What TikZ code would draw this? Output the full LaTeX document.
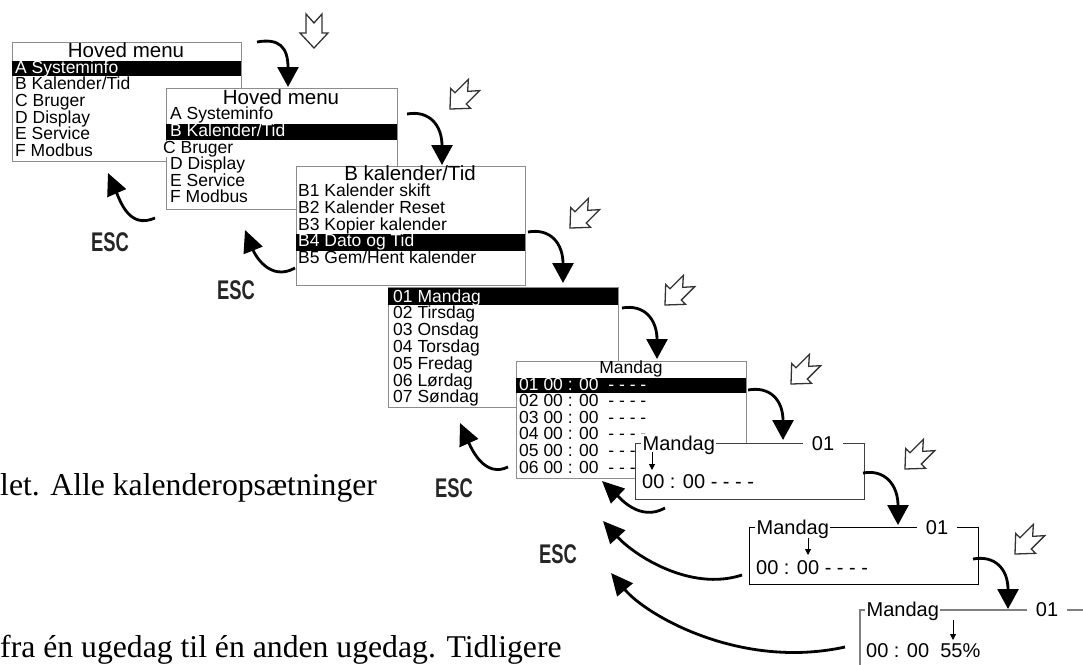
\documentclass[tikz,border=0pt]{standalone}
\usepackage{fontspec}
\setmainfont{Liberation Serif}
\setsansfont{Liberation Sans}
\usetikzlibrary{arrows.meta}

\tikzset{
  menubox/.style={draw=black!45, line width=0.8pt, fill=white, inner sep=0pt, anchor=north west},
  framebox/.style={fill=white, line width=1pt, inner sep=0pt, anchor=north west},
  item/.style={anchor=base west, inner sep=0pt, font=\sffamily\fontsize{17.5}{17.5}\selectfont},
  title/.style={anchor=base, inner sep=0pt, font=\sffamily\fontsize{20.5}{20.5}\selectfont},
  bar/.style={fill=black, draw=none},
  frametxt/.style={anchor=base west, inner sep=0pt, font=\sffamily\fontsize{20}{20}\selectfont},
  framelabel/.style={fill=white, inner xsep=1.5pt, inner ysep=1.5pt, font=\sffamily\fontsize{20}{20}\selectfont},
  enterarrow/.style={line width=2.8pt, -{Triangle[length=20pt,width=21pt]}},
  escarrow/.style={line width=2.8pt, -{Triangle[length=22pt,width=20pt]}},
  esclabel/.style={inner sep=0pt, text=black!85, font=\sffamily\bfseries\fontsize{27}{27}\selectfont},
  cursor/.style={line width=1pt, -{Triangle[length=6pt,width=6pt]}},
  keyicon/.style={draw=black!80, line width=1.3pt, fill=white},
  pagetext/.style={anchor=base west, inner sep=0pt, font=\fontsize{31.7}{31.7}\selectfont},
  enterkey/.pic={
    \draw[keyicon] (0,17) -- (-14,2) -- (-8,2) -- (-8,-17) -- (0,-8) -- (8,-17) -- (8,2) -- (14,2) -- cycle;
  }
}

\begin{document}
\begin{tikzpicture}[x=1pt,y=-1pt]
\useasboundingbox (0,0) rectangle (1083,664);

% text of the page behind the figure
\node[pagetext] (p1) at (0,495) {let. Alle kalenderopsætninger};
\node[pagetext] (p2) at (0,657) {fra én ugedag til én anden ugedag. Tidligere};

% menu 1
\node[menubox, minimum width=229pt, minimum height=119pt] (b1) at (12,42) {};
\draw[bar] (12,61) rectangle (241,76);
\node[title] (t1) at (126,57) {Hoved menu};
\foreach \txt [count=\i] in {A Systeminfo, B Kalender/Tid, C Bruger, D Display, E Service, F Modbus}{
  \ifnum\i=1 \def\col{white}\else\def\col{black}\fi
  \node[item, text=\col] (m1-\i) at (15,56.3+16.7*\i) {\txt};
}

% menu 2
\node[menubox, minimum width=231pt, minimum height=121pt] (b2) at (166,88) {};
\draw[bar] (166,124) rectangle (397,140);
\node[title] (t2) at (281,104) {Hoved menu};
\foreach \txt [count=\i] in {A Systeminfo, B Kalender/Tid, C Bruger, D Display, E Service, F Modbus}{
  \ifnum\i=2 \def\col{white}\else\def\col{black}\fi
  \ifnum\i=3 \def\xx{163}\def\fl{white}\else\def\xx{170}\def\fl{none}\fi
  \node[item, text=\col, fill=\fl] (m2-\i) at (\xx,103.3+16.6*\i) {\txt};
}

% menu 3
\node[menubox, minimum width=229pt, minimum height=119pt] (b3) at (296,166) {};
\draw[bar] (296,234) rectangle (525,251);
\node[title] (t3) at (410,180) {B kalender/Tid};
\foreach \txt [count=\i] in {B1 Kalender skift, B2 Kalender Reset, B3 Kopier kalender, B4 Dato og Tid, B5 Gem/Hent kalender}{
  \ifnum\i=4 \def\col{white}\else\def\col{black}\fi
  \node[item, text=\col] (m3-\i) at (298,180.3+16.6*\i) {\txt};
}

% week days
\node[menubox, minimum width=230pt, minimum height=120pt] (b4) at (388,287) {};
\draw[bar] (388,288) rectangle (618,305);
\foreach \txt [count=\i] in {01 Mandag, 02 Tirsdag, 03 Onsdag, 04 Torsdag, 05 Fredag, 06 Lørdag, 07 Søndag}{
  \ifnum\i=1 \def\col{white}\else\def\col{black}\fi
  \node[item, text=\col] (m4-\i) at (393,285.2+16.8*\i) {\txt};
}

% time slots of the day
\node[menubox, minimum width=230pt, minimum height=117pt] (b5) at (516,361) {};
\draw[bar] (516,378) rectangle (746,393);
\node[item, anchor=base] (t5) at (631,373) {Mandag};
\foreach \i in {1,...,6}{
  \ifnum\i=1 \def\col{white}\else\def\col{black}\fi
  \node[item, text=\col] (m5-\i) at (519,373.4+16.6*\i) {0\i{} 00 : 00\ \ - - - -};
}

% edit frames
\node[framebox, draw=black!75, minimum width=229pt, minimum height=56pt] (b6) at (635,443) {};
\node[framelabel, anchor=base west] (l6a) at (641,450) {Mandag};
\node[framelabel, anchor=base, inner xsep=9pt] (l6b) at (823,450) {01};
\draw[cursor] (652,452) -- (652,470);
\node[frametxt] (v6) at (642,488) {00 : 00 - - - -};

\node[framebox, draw=black, minimum width=229pt, minimum height=57pt] (b7) at (749,527) {};
\node[framelabel, anchor=base west] (l7a) at (755,534) {Mandag};
\node[framelabel, anchor=base, inner xsep=9pt] (l7b) at (937,534) {01};
\draw[cursor] (808,538) -- (808,555);
\node[frametxt] (v7) at (756,574) {00 : 00 - - - -};

\node[framebox, draw=black!50, line width=1.5pt, minimum width=260pt, minimum height=80pt] (b8) at (859,609) {};
\node[framelabel, anchor=base west] (l8a) at (865,616) {Mandag};
\node[framelabel, anchor=base, inner xsep=9pt] (l8b) at (1047,616) {01};
\draw[cursor] (953,620) -- (953,640);
\node[frametxt] (v8) at (866,657) {00 : 00\ \ 55\%};

% enter arrows, from one screen down to the next
\foreach \sx/\sy/\tx/\ty [count=\i] in {257/42/288/87, 407/114/442/165, 528/232/563/283, 622/308/657/359,
    748/390/783/440, 863/473/898/525, 973/559/1008/609}{
  \coordinate (as\i) at (\sx,\sy);
  \coordinate (at\i) at (\tx,\ty);
  \draw[enterarrow] (as\i) .. controls +(22,-4) and +(0,-40) .. (at\i);
}

% enter keys
\pic (k1) at (314,31) {enterkey};
\foreach \kx/\ky [count=\i from 2] in {462/97, 582/216, 677/293, 803/372, 917/457, 1027/542}
  \pic[rotate=-45] (k\i) at (\kx,\ky) {enterkey};

% ESC arrows back up
\coordinate (es1) at (155,218); \coordinate (et1) at (108,173);
\coordinate (es2) at (295,268); \coordinate (et2) at (245,230);
\coordinate (es3) at (508,467); \coordinate (et3) at (460,423);
\coordinate (es4) at (665,508); \coordinate (et4) at (602,481);
\coordinate (es5) at (742,575); \coordinate (et5) at (603,521);
\coordinate (es6) at (845,647); \coordinate (et6) at (611,573);
\draw[escarrow] (es1) .. controls +(-25,11) and +(13,30) .. (et1);
\draw[escarrow] (es2) .. controls +(-25,14) and +(10,25) .. (et2);
\draw[escarrow] (es3) .. controls +(-23,11) and +(12,27) .. (et3);
\draw[escarrow] (es4) .. controls +(-25,14) and +(18,17) .. (et4);
\draw[escarrow] (es5) .. controls +(-52,17) and +(31,34) .. (et5);
\draw[escarrow] (es6) .. controls +(-105,23) and +(35,42) .. (et6);

% ESC labels
\node[esclabel] (esc1) at (110,242) {\scalebox{0.68}[1]{ESC}};
\node[esclabel] (esc2) at (236,290) {\scalebox{0.68}[1]{ESC}};
\node[esclabel] (esc3) at (454,488) {\scalebox{0.68}[1]{ESC}};
\node[esclabel] (esc4) at (558,554) {\scalebox{0.68}[1]{ESC}};
\end{tikzpicture}
\end{document}
